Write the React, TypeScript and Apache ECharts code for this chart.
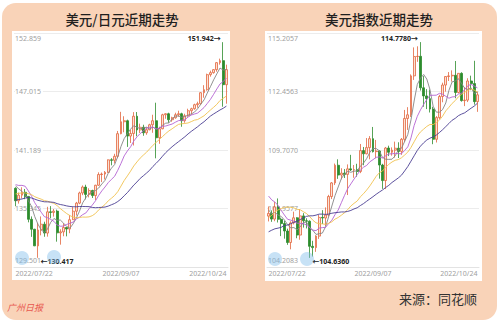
import React, { useEffect, useRef } from "react";
import * as echarts from "echarts";

// ---------- data ----------
const START_DATE = "2022-07-22";
const END_DATE = "2022-10-24";
const X_TICKS = ["2022/07/22", "2022/09/07", "2022/10/24"];

// USD/JPY daily candles [open, close, low, high]
const JPY_OHLC: number[][] = [
  [137.36, 136.11, 135.57, 137.46],
  [136.11, 136.67, 135.83, 136.93],
  [136.67, 136.96, 136.35, 137.46],
  [136.96, 136.55, 136.27, 137.29],
  [136.55, 134.26, 133.96, 136.57],
  [134.26, 133.27, 132.51, 134.55],
  [133.27, 131.61, 131.59, 133.31],
  [131.61, 133.19, 130.417, 133.9],
  [133.19, 133.77, 132.66, 134.55],
  [133.77, 132.89, 132.52, 134.02],
  [132.89, 135.01, 132.53, 135.51],
  [135.01, 134.95, 134.36, 135.58],
  [134.95, 135.08, 134.53, 135.29],
  [135.08, 132.91, 132.03, 135.23],
  [132.91, 133.01, 131.73, 133.27],
  [133.01, 133.45, 132.57, 133.86],
  [133.45, 133.29, 132.56, 133.5],
  [133.29, 134.22, 132.87, 134.69],
  [134.22, 135.07, 134.2, 135.48],
  [135.07, 135.88, 134.64, 136.0],
  [135.88, 136.89, 135.77, 137.02],
  [136.89, 137.48, 136.67, 137.64],
  [137.48, 136.75, 136.25, 137.71],
  [136.75, 137.14, 136.45, 137.36],
  [137.14, 136.63, 136.39, 137.21],
  [136.63, 137.66, 136.19, 137.71],
  [137.66, 138.73, 137.6, 138.95],
  [138.73, 138.78, 137.98, 138.93],
  [138.78, 138.95, 138.24, 139.08],
  [138.95, 140.2, 138.9, 140.23],
  [140.2, 140.15, 139.65, 140.36],
  [140.15, 140.55, 139.84, 140.8],
  [140.55, 142.81, 140.37, 143.08],
  [142.81, 144.0, 142.75, 144.99],
  [144.0, 144.1, 142.95, 144.55],
  [144.1, 142.57, 141.49, 144.21],
  [142.57, 142.83, 141.88, 143.18],
  [142.83, 144.55, 141.63, 144.96],
  [144.55, 143.18, 142.55, 144.97],
  [143.18, 143.45, 142.88, 143.81],
  [143.45, 142.9, 142.6, 143.7],
  [142.9, 143.2, 142.7, 143.45],
  [143.2, 143.7, 143.15, 143.8],
  [143.7, 144.1, 142.9, 144.7],
  [144.1, 142.4, 140.35, 145.9],
  [142.4, 143.3, 141.8, 143.5],
  [143.3, 144.7, 143.25, 144.8],
  [144.7, 144.8, 144.3, 144.85],
  [144.8, 144.2, 143.9, 144.9],
  [144.2, 144.4, 144.0, 144.5],
  [144.4, 144.7, 144.3, 144.9],
  [144.7, 144.8, 144.5, 145.1],
  [144.8, 144.1, 143.5, 144.9],
  [144.1, 144.6, 143.9, 144.8],
  [144.6, 145.1, 144.5, 145.3],
  [145.1, 145.3, 144.7, 145.4],
  [145.3, 145.7, 145.2, 145.8],
  [145.7, 145.8, 145.4, 146.0],
  [145.8, 146.9, 145.7, 146.95],
  [146.9, 147.2, 146.4, 147.65],
  [147.2, 148.7, 147.1, 148.8],
  [148.7, 148.9, 148.5, 149.1],
  [148.9, 149.2, 148.8, 149.25],
  [149.2, 149.9, 149.0, 149.95],
  [149.9, 150.1, 149.7, 150.3],
  [150.1, 147.7, 145.5, 151.942],
  [147.7, 149.2, 145.8, 149.7],
];
// USD/JPY closes before 2022/07/22 (for moving averages)
const JPY_PRIOR_CLOSES = [
  134.38, 134.41, 134.42, 135.47, 133.92, 132.19, 135.03, 135.07, 136.65,
  136.22, 134.95, 135.21, 135.45, 136.14, 136.6, 135.72, 135.21, 135.69,
  135.86, 135.92, 136.01, 136.09, 137.44, 136.87, 137.44, 138.92, 138.55,
  138.15, 138.17, 138.18, 137.36,
];
const JPY_Y_TICKS = ["129.501", "135.345", "141.189", "147.015", "152.859"];
const JPY_Y_MIN = 129.501;
const JPY_Y_MAX = 152.859;

// US dollar index daily candles [open, close, low, high]
const DXY_OHLC: number[][] = [
  [106.6, 106.73, 106.35, 107.05],
  [106.73, 106.46, 106.33, 106.87],
  [106.46, 107.03, 106.36, 107.27],
  [107.03, 106.45, 106.3, 107.43],
  [106.45, 106.25, 105.66, 106.53],
  [106.25, 105.9, 105.54, 106.38],
  [105.9, 105.36, 105.25, 106.01],
  [105.36, 106.28, 105.04, 106.36],
  [106.28, 106.52, 106.21, 106.81],
  [106.52, 105.71, 105.56, 106.55],
  [105.71, 106.61, 105.49, 106.93],
  [106.61, 106.38, 106.06, 106.74],
  [106.38, 106.36, 106.02, 106.5],
  [106.36, 105.18, 104.636, 106.4],
  [105.18, 105.12, 104.7, 105.44],
  [105.12, 105.66, 104.92, 105.7],
  [105.66, 106.54, 105.53, 106.65],
  [106.54, 106.51, 106.23, 106.88],
  [106.51, 106.65, 106.13, 107.01],
  [106.65, 107.52, 106.57, 107.6],
  [107.52, 108.16, 107.4, 108.2],
  [108.16, 108.99, 108.06, 109.07],
  [108.99, 108.53, 108.35, 109.27],
  [108.53, 108.62, 108.33, 108.85],
  [108.62, 108.56, 108.39, 108.81],
  [108.56, 108.82, 107.59, 109.03],
  [108.82, 108.77, 108.72, 109.48],
  [108.77, 108.78, 108.4, 109.0],
  [108.78, 108.7, 108.45, 109.06],
  [108.7, 109.68, 108.62, 109.99],
  [109.68, 109.53, 108.99, 109.85],
  [109.53, 109.82, 109.5, 110.27],
  [109.82, 110.24, 109.27, 110.36],
  [110.24, 109.63, 109.59, 110.79],
  [109.63, 109.66, 109.32, 110.18],
  [109.66, 109.0, 108.36, 109.69],
  [109.0, 108.27, 107.88, 109.06],
  [108.27, 109.8, 107.87, 109.85],
  [109.8, 109.6, 109.42, 109.91],
  [109.6, 109.7, 109.44, 109.83],
  [109.7, 109.79, 109.35, 110.1],
  [109.79, 109.64, 109.33, 110.07],
  [109.64, 110.21, 109.48, 110.27],
  [110.21, 111.19, 110.08, 111.59],
  [111.19, 111.36, 110.65, 111.72],
  [111.36, 113.19, 111.26, 113.26],
  [113.19, 114.1, 113.0, 114.53],
  [114.1, 114.11, 113.85, 114.58],
  [114.11, 112.63, 112.5, 114.778],
  [112.63, 112.25, 111.74, 113.18],
  [112.25, 112.12, 111.63, 112.57],
  [112.12, 111.63, 111.47, 112.55],
  [111.63, 110.21, 109.98, 111.74],
  [110.21, 111.23, 110.06, 111.3],
  [111.23, 112.22, 111.14, 112.3],
  [112.22, 112.76, 111.95, 112.87],
  [112.76, 113.16, 112.45, 113.17],
  [113.16, 113.19, 112.95, 113.37],
  [113.19, 113.22, 112.92, 113.45],
  [113.22, 112.41, 112.14, 113.89],
  [112.41, 113.31, 112.37, 113.32],
  [113.31, 112.03, 111.98, 113.36],
  [112.03, 112.05, 111.77, 112.65],
  [112.05, 112.95, 111.96, 113.08],
  [112.95, 112.83, 112.52, 113.2],
  [112.83, 111.98, 111.84, 113.9],
  [111.98, 112.3, 111.5, 112.45],
];
const DXY_PRIOR_CLOSES = [
  103.26, 104.15, 105.08, 105.53, 105.05, 103.38, 104.67, 104.43, 104.43,
  104.19, 104.42, 104.2, 103.94, 104.49, 105.07, 104.69, 105.14, 106.52,
  107.03, 107.04, 107.01, 108.24, 108.07, 108.0, 108.6, 108.07, 107.35,
  106.68, 107.07, 106.59,
];
const DXY_Y_TICKS = ["104.2083", "106.9577", "109.7070", "112.4563", "115.2057"];
const DXY_Y_MIN = 104.2083;
const DXY_Y_MAX = 115.2057;

const MA_PERIODS = [5, 10, 20, 30];
const MA_COLORS = ["#858585", "#b463d2", "#f1c24f", "#4a3d92"];

const TITLES = ["美元/日元近期走势", "美元指数近期走势"];
const SOURCE = "来源：同花顺";
const LOGO = "广州日报";

// ---------- helpers ----------
function tradingDays(start: string, end: string): string[] {
  const out: string[] = [];
  const d = new Date(start + "T00:00:00Z");
  const e = new Date(end + "T00:00:00Z");
  while (d.getTime() <= e.getTime()) {
    const w = d.getUTCDay();
    if (w !== 0 && w !== 6) {
      const m = String(d.getUTCMonth() + 1).padStart(2, "0");
      const dd = String(d.getUTCDate()).padStart(2, "0");
      out.push(`${d.getUTCFullYear()}/${m}/${dd}`);
    }
    d.setUTCDate(d.getUTCDate() + 1);
  }
  return out;
}

function movingAverage(prior: number[], ohlc: number[][], n: number) {
  const closes = ohlc.map((r) => r[1]);
  const all = prior.concat(closes);
  const off = prior.length;
  return closes.map((_, i) => {
    const end = off + i;
    const start = end - n + 1;
    if (start < 0) return null;
    let s = 0;
    for (let k = start; k <= end; k++) s += all[k];
    return +(s / n).toFixed(4);
  });
}

const FONT = "'Noto Sans', 'Noto Sans CJK SC', sans-serif";

function tickAxis(grid: number, ticks: string[]) {
  return {
    type: "value",
    gridIndex: grid,
    min: 0,
    max: 4,
    interval: 1,
    axisLine: { show: false },
    axisTick: { show: false },
    splitLine: { lineStyle: { color: "#ececec", width: 1 } },
    axisLabel: {
      inside: true,
      margin: 1,
      fontSize: 7,
      color: "#a0a0a0",
      fontFamily: FONT,
      formatter: (v: number) => {
        const i = Math.round(v);
        const s = ticks[i];
        if (i === 4) return `{t|${s}}`;
        if (i === 0) return `{b|${s}}`;
        return `{m|${s}}`;
      },
      rich: {
        t: { fontSize: 7, color: "#a0a0a0", padding: [10, 0, 0, 0] },
        b: { fontSize: 7, color: "#a0a0a0", padding: [0, 0, 14, 0] },
        m: { fontSize: 7, color: "#a0a0a0", backgroundColor: "#fff", padding: [0, 2, 0, 0] },
      },
    },
  };
}

function dataAxis(grid: number, min: number, max: number) {
  return { type: "value", gridIndex: grid, min, max, show: false, splitLine: { show: false } };
}

function catAxis(grid: number, cats: string[]) {
  return {
    type: "category",
    gridIndex: grid,
    data: cats,
    boundaryGap: true,
    axisLine: { show: true, lineStyle: { color: "#e3e3e3" } },
    axisTick: { show: false },
    splitLine: { show: false },
    axisLabel: {
      interval: (_i: number, v: string) => X_TICKS.includes(v),
      fontSize: 7,
      color: "#a0a0a0",
      margin: 3,
      fontFamily: FONT,
      alignMinLabel: "left",
      alignMaxLabel: "right",
    },
  };
}

function seriesFor(ax: number, yData: number, ohlc: number[][], prior: number[], dec: number) {
  const candle = {
    type: "candlestick",
    xAxisIndex: ax,
    yAxisIndex: yData,
    data: ohlc,
    barWidth: 2.4,
    itemStyle: {
      color: "#fbe2d4",
      borderColor: "#e2663e",
      color0: "#2c8c2c",
      borderColor0: "#2c8c2c",
      borderWidth: 0.8,
    },
    markPoint: {
      symbol: "circle",
      symbolSize: 1,
      itemStyle: { color: "rgba(0,0,0,0)" },
      data: [
        {
          type: "max",
          valueDim: "highest",
          label: {
            show: true,
            position: "left",
            distance: 2,
            offset: [0, -4],
            fontSize: 7,
            fontWeight: "bold",
            color: "#222",
            fontFamily: FONT,
            formatter: (p: any) => Number(p.value).toFixed(dec) + "→",
          },
        },
        {
          type: "min",
          valueDim: "lowest",
          label: {
            show: true,
            position: "right",
            distance: 2,
            offset: [0, 4],
            fontSize: 7,
            fontWeight: "bold",
            color: "#222",
            fontFamily: FONT,
            formatter: (p: any) => "←" + Number(p.value).toFixed(dec),
          },
        },
      ],
    },
    z: 2,
  };
  const lines = MA_PERIODS.map((n, k) => ({
    type: "line",
    name: "MA" + n,
    xAxisIndex: ax,
    yAxisIndex: yData,
    data: movingAverage(prior, ohlc, n),
    showSymbol: false,
    symbol: "none",
    lineStyle: { color: MA_COLORS[k], width: 0.9 },
    z: 3,
  }));
  return [candle, ...lines];
}

export default function App() {
  const ref = useRef<HTMLDivElement>(null);
  useEffect(() => {
    if (!ref.current) return;
    const chart = echarts.init(ref.current, undefined, { renderer: "svg" });
    const cats = tradingDays(START_DATE, END_DATE);
    const option: any = {
      animation: false,
      textStyle: { fontFamily: FONT },
      grid: [
        { left: 14, right: 272, top: 33, bottom: 57 },
        { left: 267, right: 21, top: 33, bottom: 57 },
      ],
      xAxis: [catAxis(0, cats), catAxis(1, cats)],
      yAxis: [
        tickAxis(0, JPY_Y_TICKS),
        dataAxis(0, JPY_Y_MIN, JPY_Y_MAX),
        tickAxis(1, DXY_Y_TICKS),
        dataAxis(1, DXY_Y_MIN, DXY_Y_MAX),
      ],
      series: [
        ...seriesFor(0, 1, JPY_OHLC, JPY_PRIOR_CLOSES, 3),
        ...seriesFor(1, 3, DXY_OHLC, DXY_PRIOR_CLOSES, 4),
      ],
      graphic: [
        {
          type: "rect",
          z: -100,
          shape: { x: 2, y: 3, width: 495, height: 317, r: 14 },
          style: { fill: "#f9d3b8" },
        },
        { type: "rect", z: -90, shape: { x: 12, y: 31, width: 218, height: 249 }, style: { fill: "#ffffff" } },
        { type: "rect", z: -90, shape: { x: 265, y: 31, width: 217, height: 250 }, style: { fill: "#ffffff" } },
        {
          type: "text",
          x: 122,
          y: 19,
          style: {
            text: TITLES[0],
            textAlign: "center",
            textVerticalAlign: "middle",
            fontSize: 13.5,
            fontWeight: 500,
            fill: "#1f1f1f",
            fontFamily: "'Noto Sans CJK SC', sans-serif",
          },
        },
        {
          type: "text",
          x: 379,
          y: 19,
          style: {
            text: TITLES[1],
            textAlign: "center",
            textVerticalAlign: "middle",
            fontSize: 13.5,
            fontWeight: 500,
            fill: "#1f1f1f",
            fontFamily: "'Noto Sans CJK SC', sans-serif",
          },
        },
        {
          type: "text",
          x: 477,
          y: 298,
          style: {
            text: SOURCE,
            textAlign: "right",
            textVerticalAlign: "middle",
            fontSize: 13,
            fill: "#333",
            fontFamily: "'Noto Sans CJK SC', sans-serif",
          },
        },
        {
          type: "text",
          x: 7,
          y: 307,
          style: {
            text: LOGO,
            textAlign: "left",
            textVerticalAlign: "middle",
            fontSize: 9,
            fontStyle: "italic",
            fill: "#e8584f",
            fontFamily: "'Noto Sans CJK SC', sans-serif",
          },
        },
        { type: "circle", z: 50, shape: { cx: 22, cy: 258, r: 7 }, style: { fill: "rgba(130,190,235,0.45)" } },
        { type: "circle", z: 50, shape: { cx: 54, cy: 257, r: 7 }, style: { fill: "rgba(130,190,235,0.45)" } },
        { type: "circle", z: 50, shape: { cx: 275, cy: 259, r: 7 }, style: { fill: "rgba(130,190,235,0.45)" } },
        { type: "circle", z: 50, shape: { cx: 307, cy: 259, r: 7 }, style: { fill: "rgba(130,190,235,0.45)" } },
      ],
    };
    chart.setOption(option);
    return () => chart.dispose();
  }, []);
  return (
    <div style={{ position: "fixed", left: 0, top: 0, width: 500, height: 324, background: "#fff" }}>
      <div ref={ref} style={{ width: 500, height: 324 }} />
    </div>
  );
}
